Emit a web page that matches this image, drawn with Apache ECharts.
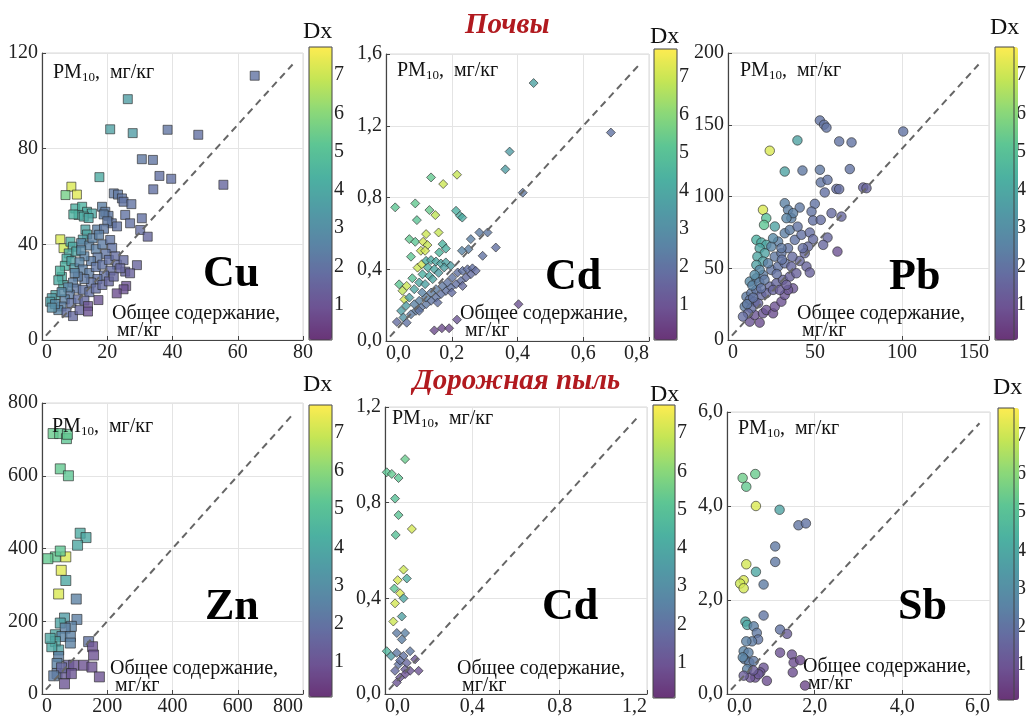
<!DOCTYPE html>
<html>
<head>
<meta charset="utf-8">
<script src="https://cdn.jsdelivr.net/npm/echarts@6/dist/echarts.min.js"></script>
<style>html,body{margin:0;padding:0;background:#fff}#chart{width:1029px;height:717px}</style>
</head>
<body>
<div id="chart"></div>
<script>
// точки: [общее содержание, PM10, Dx]
var cuData = [
  [65.2,110.5,2.0],[26.3,100.7,3.6],[20.9,88.1,3.7],[27.8,86.5,3.5],[38.5,87.9,2.1],[47.9,85.8,1.9],
  [30.6,75.6,2.2],[34.0,75.3,2.1],[17.6,68.1,4.1],[36.0,68.6,1.9],[39.6,67.4,1.9],[34.1,63.0,1.9],
  [55.6,64.9,1.6],[9.0,64.1,7.2],[10.7,60.8,7.3],[7.2,60.6,5.6],
  [10.2,55.0,4.3],[12.3,55.7,4.4],[13.8,53.6,4.2],[15.3,52.9,4.0],[11.2,52.3,4.2],[12.8,51.6,4.1],[14.3,51.0,4.0],[9.6,52.5,4.4],
  [22.0,61.3,2.2],[23.3,60.8,2.2],[24.5,59.2,2.1],[25.0,57.8,2.0],[27.4,56.8,2.0],[18.4,55.7,2.4],[19.4,53.6,2.3],[20.4,51.9,2.2],
  [18.9,52.5,2.3],[21.4,48.8,2.1],[20.0,49.6,2.2],[16.9,46.2,2.4],[25.5,52.3,2.0],[27.0,48.8,1.9],[30.6,50.9,1.9],[30.1,46.0,1.8],
  [32.4,43.2,1.6],[19.0,46.5,2.2],[23.0,47.5,2.0],
  [13.3,46.2,3.8],[13.8,44.1,3.9],[12.5,42.0,3.6],[5.6,42.1,7.2],[6.6,38.4,7.0],
  [8.7,41.1,4.2],[9.5,39.0,4.0],[8.2,36.2,4.1],[7.5,34.0,4.2],[7.0,31.0,4.3],[6.1,26.4,4.2],[5.5,29.0,4.4],[6.5,23.0,3.9],
  [5.0,25.0,4.1],[4.1,18.8,3.8],[3.0,17.5,3.5],[2.5,16.0,3.6],[10.5,37.0,3.9],[9.0,33.0,3.8],[10.0,30.0,3.5],
  [12.0,40.5,2.6],[14.5,39.5,2.5],[16.5,38.0,2.4],[18.5,40.0,2.3],[20.9,41.8,2.1],[21.5,38.5,2.0],[19.5,36.0,2.1],[17.0,34.5,2.2],
  [15.0,33.0,2.3],[13.0,35.0,2.5],[11.5,32.5,2.6],[12.5,29.5,2.4],[14.5,28.0,2.3],[16.5,30.5,2.1],[18.5,31.5,2.0],[20.5,33.5,1.9],
  [22.5,35.0,1.8],[23.0,31.5,1.8],[25.0,33.4,1.7],[29.1,31.3,1.5],[25.5,28.6,1.5],[27.0,27.9,1.4],[21.0,29.0,1.8],[19.0,27.0,1.9],
  [17.0,25.5,2.0],[15.0,24.0,2.0],[13.0,25.5,2.2],[11.0,26.5,2.3],[9.5,24.0,2.4],[10.5,21.5,2.2],[12.5,21.0,2.0],[14.5,20.0,1.9],
  [16.5,21.5,1.8],[18.5,23.0,1.7],[20.5,24.5,1.6],[8.5,19.0,2.3],[7.0,17.0,2.5],[9.0,15.5,2.0],[11.0,17.0,1.9],[13.0,16.5,1.7],
  [6.0,14.0,2.4],[5.0,12.5,2.6],[7.5,11.5,1.9],[9.5,10.0,1.7],[11.5,12.5,1.6],[4.0,15.0,2.8],[3.0,13.5,3.0],[8.0,22.0,2.6],
  [10.0,28.0,2.5],[12.0,37.5,2.7],[15.5,42.5,2.5],[17.5,44.0,2.4],[6.0,20.0,2.8],[22.0,26.5,1.6],[24.0,30.0,1.6],
  [25.8,22.6,0.9],[25.0,21.2,0.9],[22.9,19.5,0.8],[17.3,16.7,1.0],[14.1,14.2,1.0],[14.1,11.9,0.9]
];
var cdSoilData = [
  [0.449,1.438,3.8],[0.684,1.162,2.0],[0.376,1.056,3.5],[0.363,0.957,3.6],[0.416,0.827,2.2],
  [0.137,0.912,5.3],[0.216,0.927,6.9],[0.174,0.875,7.0],
  [0.028,0.745,5.2],[0.089,0.767,5.3],[0.132,0.730,5.4],[0.150,0.702,6.8],[0.094,0.674,5.1],[0.213,0.726,4.3],[0.225,0.698,4.2],[0.232,0.688,4.1],
  [0.071,0.568,5.3],[0.089,0.553,5.2],[0.122,0.596,7.0],[0.160,0.605,6.9],[0.113,0.553,7.1],[0.126,0.535,6.9],[0.106,0.503,7.0],[0.119,0.503,7.1],
  [0.076,0.470,5.2],[0.172,0.540,4.4],[0.182,0.515,4.3],[0.162,0.494,4.5],
  [0.096,0.409,7.0],[0.109,0.428,7.1],[0.040,0.316,5.2],[0.063,0.307,7.0],[0.056,0.232,7.1],[0.050,0.280,6.8],[0.080,0.350,5.0],
  [0.122,0.447,4.2],[0.137,0.451,4.1],[0.152,0.443,4.0],[0.167,0.432,3.9],[0.182,0.438,3.8],[0.197,0.419,3.6],[0.127,0.410,4.2],[0.147,0.400,4.0],
  [0.177,0.410,3.7],[0.111,0.372,4.3],[0.132,0.363,4.1],[0.101,0.326,4.0],[0.119,0.317,3.8],[0.142,0.345,3.9],[0.086,0.289,3.9],[0.071,0.242,3.7],
  [0.061,0.196,3.6],[0.046,0.168,3.6],[0.053,0.131,3.2],[0.160,0.380,3.6],
  [0.202,0.354,2.1],[0.218,0.382,2.0],[0.233,0.391,2.0],[0.248,0.400,1.9],[0.263,0.405,1.9],[0.273,0.391,1.8],[0.258,0.372,1.8],[0.243,0.354,1.8],
  [0.228,0.335,1.9],[0.213,0.317,1.9],[0.197,0.298,2.0],[0.182,0.279,2.0],[0.167,0.261,2.0],[0.152,0.242,2.1],[0.137,0.224,2.1],[0.122,0.205,2.2],
  [0.106,0.186,2.2],[0.091,0.168,2.3],[0.076,0.149,2.3],[0.063,0.102,2.0],[0.172,0.307,2.2],[0.187,0.326,2.1],[0.152,0.289,2.3],[0.137,0.270,2.3],
  [0.122,0.242,2.4],[0.101,0.224,2.5],[0.086,0.205,2.5],[0.101,0.168,2.1],[0.110,0.270,2.6],[0.157,0.214,1.9],[0.200,0.270,1.8],[0.233,0.307,1.7],
  [0.258,0.568,2.4],[0.251,0.512,2.4],[0.231,0.503,2.6],[0.294,0.475,2.0],[0.284,0.605,2.3],[0.309,0.605,2.2],[0.334,0.521,1.9],
  [0.033,0.106,1.8],[0.403,0.205,0.9],[0.216,0.119,1.0],[0.147,0.059,0.7],[0.170,0.071,0.7],[0.192,0.071,0.7]
];
var pbData = [
  [100.7,145.3,2.0],[52.8,153,2.0],[55.2,150,2.0],[56.6,148,2.0],[39.9,139.1,3.8],[63.9,138.4,2.0],[71,137.7,2.0],[24,131.9,7.2],
  [32.6,117.4,3.8],[42.8,118.1,2.2],[52.8,118.6,2.2],[70,119.1,2.0],[53.3,109.8,2.1],[57.2,111.6,2.0],[55.6,102.8,1.9],[62.3,105.3,1.8],
  [63.9,105.1,1.8],[77.7,106.3,1.5],[79.6,105.8,1.5],[32.6,95.3,2.5],[34.5,90.7,2.4],[41.2,92.3,2.2],[49.9,94.9,2.0],[48,89.5,2.0],
  [48.9,83.3,1.9],[53.3,83.7,1.8],[59.5,88.4,1.7],[65.2,86,1.6],[20.1,90.7,7.2],[22,84.9,5.0],[20.7,80.2,5.2],[26.9,79.1,3.8],
  [57.2,71.4,1.6],[54.7,66.3,1.6],[62.9,61.6,0.9],[38.4,69.8,2.0],[42.2,73.3,1.9],[47,74.9,1.8],[48.9,70.2,1.7],[46,65.1,1.7],
  [44.1,60.5,1.6],[41.2,55.1,1.6],[45.1,51.2,1.5],[47,47,1.4],
  [16.3,69.8,4.3],[19.2,67.9,4.1],[22,66.3,3.9],[18.2,64,4.0],[21.1,60.5,3.8],[16.9,58.1,3.9],[20.1,54.7,3.7],[16.3,52.3,3.7],
  [12.5,12.8,1.0],[18.2,12.1,0.8],[15.3,17.4,1.0],[20.1,18.6,1.0],[22,20.9,1.0],[25.9,18.6,0.8],[26.9,23.3,0.9],[30.7,26.7,0.9],
  [32.6,31.4,1.0],[37.4,36,1.0],[34.5,34.9,1.0],
  [10.6,30.2,2.3],[13.4,32.6,2.2],[16.3,34.9,2.1],[12.5,27.9,2.1],[15.3,26.7,1.9],[9.6,23.3,2.3],[13.4,22.1,1.8],[17.3,25.6,1.6],
  [19.2,31.4,1.7],[11.5,18.6,1.7],[8.6,16.3,1.8],[11,25,2.2],[14.5,29.5,2.0],
  [12.5,40.7,2.8],[16.3,43,2.5],[20.1,45.3,2.3],[24.9,48.8,2.1],[28.8,51.2,2.0],[32.6,53.5,1.9],[36.4,51.2,1.6],[23,53.5,2.4],
  [26.9,58.1,2.2],[30.7,60.5,2.1],[34.5,64,2.0],[24,37.2,1.7],[27.8,39.5,1.6],[31.6,41.9,1.5],[35.5,44.2,1.4],[39.3,46.5,1.4],
  [22,32.6,1.6],[25.9,34.9,1.5],[29.7,34.9,1.3],[33.6,38.4,1.3],[28.8,68.6,2.4],[32.6,74.4,2.4],[35.5,76.7,2.3],[30.7,64,2.2],
  [36.4,84.9,2.4],[37.4,88.4,2.4],[33.6,84.9,2.6],[24.9,65.1,2.6],[25.9,70.9,2.8],[18.2,48.8,2.7],[15.3,45.3,2.9],[14,38,2.6],
  [18,40,2.4],[21,42,2.2],[19,36,2.0],[40,79,2.0],[43,64,1.8],[28,46,1.9],[31,56,2.0],[37,58,1.7]
];
var znData = [
  [34,716,5.4],[54,716,5.3],[75,702,5.2],[78,714,5.3],[56,619,5.3],[81,600,5.2],[117,442,4.1],[135,430,4.0],
  [109,409,4.0],[41,377,5.3],[18,372,5.3],[73,377,7.2],[56,393,5.2],[59,340,7.3],[73,312,4.0],[51,275,7.2],
  [105,261,2.5],[69,209,3.5],[107,205,2.4],[56,195,3.8],[90,186,2.5],[71,181,2.5],[41,163,3.9],[61,158,2.6],
  [87,158,2.5],[41,144,4.0],[87,140,2.5],[143,144,2.0],[51,121,3.8],[30,130,4.0],[25,153,3.9],[155,130,0.9],
  [158,107,0.9],[51,103,2.4],[46,84,2.5],[82,79,1.5],[97,79,1.0],[128,79,0.9],[153,74,0.9],[176,47,0.9],
  [46,56,2.2],[71,56,1.3],[90,56,1.0],[69,28,1.0],[60,72,1.6],[36,50,2.3]
];
var cdDustData = [
  [0.092,0.982,5.4],[0.008,0.927,5.2],[0.031,0.920,5.3],[0.062,0.903,5.2],[0.046,0.817,5.0],[0.062,0.748,5.1],[0.049,0.665,5.0],
  [0.123,0.690,7.1],[0.085,0.520,7.0],[0.058,0.476,7.2],[0.100,0.483,4.2],[0.043,0.441,5.2],[0.069,0.421,7.2],[0.046,0.379,7.1],
  [0.085,0.400,4.0],[0.077,0.324,3.7],[0.038,0.303,7.0],[0.092,0.255,2.5],[0.054,0.255,2.3],[0.077,0.228,2.4],[0.008,0.179,4.6],
  [0.028,0.159,3.5],[0.054,0.172,2.2],[0.085,0.159,2.0],[0.115,0.179,2.2],[0.062,0.124,2.0],[0.046,0.097,1.7],[0.092,0.103,1.3],
  [0.138,0.145,1.0],[0.154,0.097,0.9],[0.115,0.097,1.0],[0.092,0.083,0.9],[0.069,0.069,1.0],[0.054,0.048,1.0],[0.069,0.140,1.9],
  [0.100,0.130,1.6]
];
var sbData = [
  [0.357,4.596,5.5],[0.645,4.68,5.4],[0.44,4.41,5.3],[0.66,4.0,7.2],[1.2,3.92,3.8],[1.63,3.59,2.1],[1.8,3.63,2.0],[1.1,3.14,2.2],
  [1.1,2.81,2.2],[0.44,2.76,7.1],[0.66,2.6,4.0],[0.835,2.33,2.3],[0.38,2.42,7.2],[0.30,2.35,7.0],[0.38,2.25,7.1],[0.835,1.67,2.1],
  [0.42,1.54,3.9],[0.46,1.47,4.0],[0.61,1.44,2.4],[0.68,1.3,2.2],[0.71,1.16,2.1],[0.57,1.12,2.3],[0.44,1.12,2.5],[1.21,1.37,2.0],
  [1.37,1.28,1.3],[0.38,0.91,2.6],[0.49,0.88,2.4],[0.40,0.74,2.3],[0.51,0.67,2.3],[0.61,0.70,2.2],[0.46,0.53,2.5],[0.36,0.78,2.6],
  [1.21,0.88,0.9],[1.48,0.84,0.9],[1.52,0.67,0.8],[1.67,0.72,0.7],[1.5,0.46,0.8],[1.78,0.18,0.6],[0.835,0.56,1.0],[0.76,0.46,1.0],
  [0.645,0.35,0.9],[0.91,0.28,0.8],[0.53,0.35,1.0],[0.38,0.39,1.3],[0.72,0.42,1.1],[0.6,0.5,1.2]
];

var elements = ['Cu', 'Cd', 'Pb', 'Zn', 'Cd', 'Sb'];
var seriesData = [cuData, cdSoilData, pbData, znData, cdDustData, sbData];
var xRanges = [[0, 80, 20], [0, 0.8, 0.2], [0, 150, 50], [0, 800, 200], [0, 1.2, 0.4], [0, 6, 2]];
var yRanges = [[0, 120, 40], [0, 1.6, 0.4], [0, 200, 50], [0, 800, 200], [0, 1.2, 0.4], [0, 6, 2]];
var dxTicks = [1, 2, 3, 4, 5, 6, 7];
var dxRange = [0.08, 7.73];

var FONT = '"Liberation Serif", "Times New Roman", serif';
var viridis = ['#693477','#6d5393','#656da1','#5a86a5','#519ba5','#4cb1a1','#5dc594','#8bd879','#c4e555','#fdec51'];

// оформление панелей
var layout = [
  {symbol: 'rect', size: 9, dec: 0, grid: [42, 53, 261, 287], bar: [309, 47, 23, 293], dx: [318, 32], pm: [53, 74], total: [112, 313], el: [203, 277]},
  {symbol: 'diamond', size: 9, dec: 1, grid: [386, 54, 263, 287], bar: [654, 49, 23, 291], dx: [665, 37], pm: [397, 72], total: [460, 313], el: [545, 280]},
  {symbol: 'circle', size: 9.5, dec: 0, grid: [728, 53, 261, 287], bar: [995, 47, 23, 293], dx: [1005, 28], pm: [740, 72], total: [797, 313], el: [889, 280]},
  {symbol: 'rect', size: 10, dec: 0, grid: [42, 403, 261, 294], bar: [309, 405, 23, 292], dx: [318, 385], pm: [52, 428], total: [110, 668], el: [205, 610]},
  {symbol: 'diamond', size: 9, dec: 1, grid: [385, 407, 262, 291], bar: [653, 405, 22, 293], dx: [665, 395], pm: [392, 420], total: [457, 668], el: [542, 610]},
  {symbol: 'circle', size: 9.5, dec: 1, grid: [727, 412, 263, 286], bar: [998, 408, 21, 292], dx: [1008, 388], pm: [738, 430], total: [803, 666], el: [898, 610]}
];

var grids = [], xAxes = [], yAxes = [], series = [], visualMaps = [], graphics = [];

function fmt(dec) {
  return function (v) { return dec ? v.toFixed(dec).replace('.', ',') : String(v); };
}

layout.forEach(function (p, i) {
  var xr = xRanges[i], yr = yRanges[i];
  grids.push({left: p.grid[0], top: p.grid[1], width: p.grid[2], height: p.grid[3],
    show: true, borderColor: '#d8d8d8', borderWidth: 1});
  var axisCommon = {
    type: 'value',
    axisLine: {show: true, onZero: false, lineStyle: {color: '#444', width: 1.2}},
    axisTick: {show: true, inside: true, length: 4, lineStyle: {color: '#444'}},
    splitLine: {show: true, lineStyle: {color: '#e4e4e4'}}
  };
  xAxes.push(Object.assign({}, axisCommon, {gridIndex: i, min: xr[0], max: xr[1], interval: xr[2],
    axisLabel: {fontFamily: FONT, fontSize: 20, color: '#222', margin: 3, formatter: fmt(p.dec),
      alignMinLabel: 'left', alignMaxLabel: i === 0 ? 'center' : 'right'}}));
  yAxes.push(Object.assign({}, axisCommon, {gridIndex: i, min: yr[0], max: yr[1], interval: yr[2],
    axisLabel: {fontFamily: FONT, fontSize: 20, color: '#222', margin: 4, formatter: fmt(p.dec)}}));

  series.push({
    type: 'scatter', xAxisIndex: i, yAxisIndex: i, data: seriesData[i],
    symbol: p.symbol, symbolSize: p.size,
    itemStyle: {borderColor: '#2b2b2b', borderWidth: 0.8},
    z: 2
  });
  series.push({
    type: 'line', xAxisIndex: i, yAxisIndex: i, symbol: 'none', silent: true,
    data: [[xr[1] * 0.015, yr[1] * 0.015], [xr[1] * 0.96, yr[1] * 0.96]],
    lineStyle: {color: '#666', width: 2, type: [7, 5]},
    z: 3
  });

  visualMaps.push({
    type: 'continuous', min: dxRange[0], max: dxRange[1], dimension: 2, seriesIndex: i * 2,
    calculable: false, left: p.bar[0], top: p.bar[1], itemWidth: p.bar[2], itemHeight: p.bar[3],
    padding: 0, inRange: {color: viridis}
  });

  graphics.push(
    {type: 'text', z: 100, left: p.pm[0], top: p.pm[1] - 11, style: {
      text: '{a|PM}{s|10}{a|,  мг/кг}', fill: '#111',
      rich: {a: {fontFamily: FONT, fontSize: 20, lineHeight: 22},
             s: {fontFamily: FONT, fontSize: 13, lineHeight: 14, verticalAlign: 'bottom'}}}},
    {type: 'text', z: 100, left: p.total[0], top: p.total[1] - 9, style: {
      text: 'Общее содержание,\n мг/кг', font: '20px ' + FONT, lineHeight: 17, fill: '#111'}},
    {type: 'text', z: 100, left: p.el[0], top: p.el[1] - 24, style: {
      text: elements[i], font: 'bold 44px ' + FONT, fill: '#000'}},
    {type: 'text', z: 100, left: p.dx[0] - 15, top: p.dx[1] - 12, style: {
      text: 'Dx', font: '24px ' + FONT, fill: '#111'}}
  );
});

// шкалы Dx
layout.forEach(function (p, i) {
  grids.push({left: p.bar[0], top: p.bar[1], width: p.bar[2], height: p.bar[3],
    show: true, borderColor: '#444', borderWidth: 1, z: 10});
  xAxes.push({gridIndex: 6 + i, type: 'value', show: false});
  yAxes.push({gridIndex: 6 + i, type: 'value', position: 'right', min: dxRange[0], max: dxRange[1],
    axisLine: {show: false}, splitLine: {show: false},
    axisTick: {show: true, inside: false, length: 4, lineStyle: {color: '#444'}, customValues: dxTicks},
    axisLabel: {fontFamily: FONT, fontSize: 20, color: '#222', margin: 2, customValues: dxTicks}});
});

graphics.push(
  {type: 'text', z: 100, left: 465, top: 11, style: {text: 'Почвы', font: 'italic bold 29px ' + FONT, fill: '#b11a1f'}},
  {type: 'text', z: 100, left: 413, top: 367, style: {text: 'Дорожная пыль', font: 'italic bold 29px ' + FONT, fill: '#b11a1f'}}
);

var chart = echarts.init(document.getElementById('chart'));
chart.setOption({
  animation: false,
  backgroundColor: '#fff',
  grid: grids,
  xAxis: xAxes,
  yAxis: yAxes,
  visualMap: visualMaps,
  series: series,
  graphic: graphics
});
</script>
</body>
</html>
